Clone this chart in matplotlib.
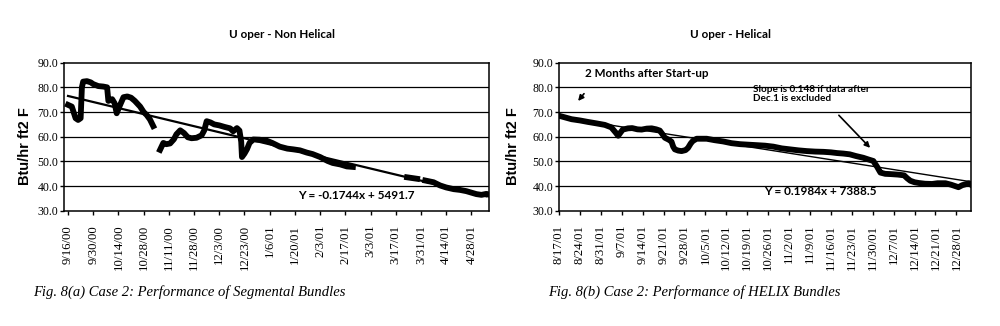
import numpy as np
import matplotlib.pyplot as plt

nan = np.nan

# Fig 8(a) - segmental bundles (x = position on category axis)
seg_labels = ['9/16/00', '9/30/00', '10/14/00', '10/28/00', '11/11/00', '11/28/00',
              '12/3/00', '12/23/00', '1/6/01', '1/20/01', '2/3/01', '2/17/01',
              '3/3/01', '3/17/01', '3/31/01', '4/14/01', '4/28/01']
seg_x = [0.0, 0.15, 0.3, 0.4, 0.5, 0.55, 0.6, 0.75, 0.9, 1.0, 1.2, 1.4, 1.55, 1.6,
         1.75, 1.85, 1.93, 2.05, 2.2, 2.35, 2.5, 2.65, 2.86, 3.0, 3.12, 3.25, 3.38, nan,
         3.65, 3.78, 3.9, 4.05, 4.2, 4.3, 4.45, 4.6, 4.75, 4.9, 5.1, 5.3, 5.4, 5.5,
         5.65, 5.8, 6.0, 6.2, 6.43, 6.55, 6.7, 6.8, 6.87, 6.9, 7.0, 7.1, 7.2, 7.35,
         7.6, 7.88, 8.1, 8.4, 8.7, 8.94, 9.2, 9.47, 9.7, 10.0, 10.3, 10.5, 10.8,
         11.06, 11.3, nan, 13.45, 13.65, 13.85, nan, 14.17, 14.5, 14.76, 15.0, 15.3,
         15.55, 15.8, 16.0, 16.2, 16.4, 16.6, 16.7]
seg_u = [72.9, 72.2, 67.5, 66.8, 67.5, 80.0, 82.3, 82.5, 82.0, 81.3, 80.5, 80.3, 80.0, 74.5,
         75.2, 73.5, 69.5, 72.5, 76.0, 76.3, 75.8, 74.5, 72.2, 70.0, 68.8, 67.0, 64.3, nan,
         54.7, 57.5, 57.0, 57.3, 59.0, 61.0, 62.6, 61.5, 59.8, 59.4, 59.6, 60.6, 62.5, 66.3,
         65.8, 65.0, 64.6, 64.0, 63.4, 62.2, 63.5, 62.5, 58.0, 51.8, 53.2, 55.0, 57.5, 58.9,
         58.8, 58.4, 57.5, 56.0, 55.2, 54.9, 54.5, 53.6, 53.0, 51.8, 50.2, 49.4, 48.8,
         48.0, 47.8, nan, 43.6, 43.3, 43.0, nan, 42.3, 41.6, 40.3, 39.5, 38.8,
         38.5, 38.0, 37.4, 36.8, 36.5, 36.9, 36.6]
seg_trend_x = [0.0, 16.6]
seg_trend_u = [76.5, 35.9]

# Fig 8(b) - HELIX bundles (x = weeks from 8/17/01)
hel_labels = ['8/17/01', '8/24/01', '8/31/01', '9/7/01', '9/14/01', '9/21/01', '9/28/01',
              '10/5/01', '10/12/01', '10/19/01', '10/26/01', '11/2/01', '11/9/01',
              '11/16/01', '11/23/01', '11/30/01', '12/7/01', '12/14/01', '12/21/01',
              '12/28/01']
hel_x = [0.0, 0.3, 0.6, 1.0, 1.38, 1.8, 2.19, 2.5, 2.7, 2.83, 2.95, 3.05, 3.3, 3.5, 3.75,
         3.95, 4.2, 4.43, 4.65, 4.82, 4.95, 5.06, 5.25, 5.38, 5.46, 5.54, 5.7, 5.86, 6.05,
         6.17, 6.3, 6.4, 6.58, 7.06, 7.45, 7.85, 8.25, 8.66, 9.05, 9.46, 9.85, 10.25,
         10.65, 11.05, 11.45, 11.85, 12.25, 12.65, 13.0, 13.3, 13.6, 13.9, 14.2, 14.55,
         14.8, 15.03, 15.12, 15.2, 15.3, 15.37, 15.6, 15.85, 16.2, 16.5, 16.65, 16.8,
         17.0, 17.2, 17.5, 17.84, 18.1, 18.48, 18.75, 18.96, 19.1, 19.28, 19.45, 19.6, 19.7]
hel_u = [68.5, 67.8, 67.1, 66.6, 66.0, 65.4, 64.8, 63.8, 61.8, 60.4, 61.8, 62.9, 63.4, 63.5,
         63.0, 62.9, 63.3, 63.4, 63.0, 62.5, 61.0, 59.6, 58.8, 58.0, 56.0, 54.9, 54.4, 54.2,
         54.6, 55.5, 57.3, 58.3, 59.2, 59.2, 58.6, 58.1, 57.4, 57.0, 56.8, 56.6, 56.4, 56.0,
         55.3, 54.9, 54.5, 54.2, 54.0, 53.9, 53.7, 53.4, 53.2, 52.9, 52.2, 51.5,
         50.8, 50.2, 49.0, 48.0, 46.5, 45.5, 45.0, 44.9, 44.7, 44.4, 43.2, 42.2,
         41.6, 41.3, 41.0, 40.9, 41.2, 41.2, 40.6, 40.0, 39.6, 40.4, 40.8, 41.2, 40.6]
hel_trend_x = [0.0, 19.7]
hel_trend_u = [68.0, 41.8]

yticks = [30, 40, 50, 60, 70, 80, 90]

serif = 'Liberation Serif'
fig = plt.figure(figsize=(10, 3.26), dpi=100)


def setup(ax, labels, xmin, xmax):
    ax.set_xlim(xmin, xmax)
    ax.set_ylim(30, 90)
    ax.set_yticks(yticks)
    ax.set_yticklabels([f'{v:.1f}' for v in yticks], fontfamily=serif, fontsize=8.5)
    ax.set_xticks(range(len(labels)))
    ax.set_xticklabels(labels, rotation=90, fontfamily=serif, fontsize=9.2)
    ax.tick_params(axis='x', length=3, width=1, direction='out', pad=7)
    ax.tick_params(axis='y', length=3, width=1, direction='out', pad=1)
    for y in yticks[1:-1]:
        ax.axhline(y, color='black', lw=0.9, zorder=1)
    for s in ax.spines.values():
        s.set_linewidth(1.1)
    ax.set_ylabel('Btu/hr ft2 F', fontfamily='Liberation Sans', fontweight='bold',
                  fontsize=10.5, labelpad=6)


# left panel
ax1 = fig.add_axes([0.064, 0.353, 0.425, 0.455])
setup(ax1, seg_labels, -0.16, 16.7)
ax1.yaxis.set_label_coords(-0.075, 0.44)
ax1.plot(seg_x, seg_u, color='black', lw=4.2, solid_joinstyle='round', zorder=3)
ax1.plot(seg_trend_x, seg_trend_u, color='black', lw=1.6, zorder=4)
ax1.text(11.45, 36.3, 'Y = -0.1744x + 5491.7', ha='center', va='center',
         fontfamily='Lato', fontweight='bold', fontsize=8.5)
fig.text(0.282, 0.895, 'U oper - Non Helical', ha='center', va='center',
         fontfamily='Lato', fontweight='bold', fontsize=8.4)
fig.text(0.033, 0.105, 'Fig. 8(a) Case 2: Performance of Segmental Bundles',
         fontfamily=serif, style='italic', fontsize=10.5, va='center')

# right panel
ax2 = fig.add_axes([0.559, 0.353, 0.412, 0.455])
setup(ax2, hel_labels, 0.0, 19.7)
ax2.yaxis.set_label_coords(-0.095, 0.44)
ax2.plot(hel_x, hel_u, color='black', lw=4.2, solid_joinstyle='round', zorder=3)
ax2.plot(hel_trend_x, hel_trend_u, color='black', lw=1.0, zorder=4)
ax2.text(12.5, 37.9, 'Y = 0.1984x + 7388.5', ha='center', va='center',
         fontfamily='Lato', fontweight='bold', fontsize=8.5)
ax2.text(1.25, 85.7, '2 Months after Start-up', ha='left', va='center',
         fontfamily='Lato', fontweight='bold', fontsize=8.4)
ax2.annotate('', xy=(0.83, 73.6), xytext=(1.28, 78.3),
             arrowprops=dict(arrowstyle='-|>', color='black', lw=1.2, mutation_scale=8))
ax2.text(9.28, 77.2, 'Slope is 0.148 if data after\nDec.1 is excluded', ha='left',
         va='center', fontfamily='Lato', fontweight='bold', fontsize=7.2, linespacing=0.95)
ax2.annotate('', xy=(14.97, 54.7), xytext=(13.29, 69.5),
             arrowprops=dict(arrowstyle='-|>', color='black', lw=1.2, mutation_scale=8))
fig.text(0.73, 0.895, 'U oper - Helical', ha='center', va='center',
         fontfamily='Lato', fontweight='bold', fontsize=8.4)
fig.text(0.548, 0.105, 'Fig. 8(b) Case 2: Performance of HELIX Bundles',
         fontfamily=serif, style='italic', fontsize=10.5, va='center')

fig.savefig('out.png', dpi=100)
